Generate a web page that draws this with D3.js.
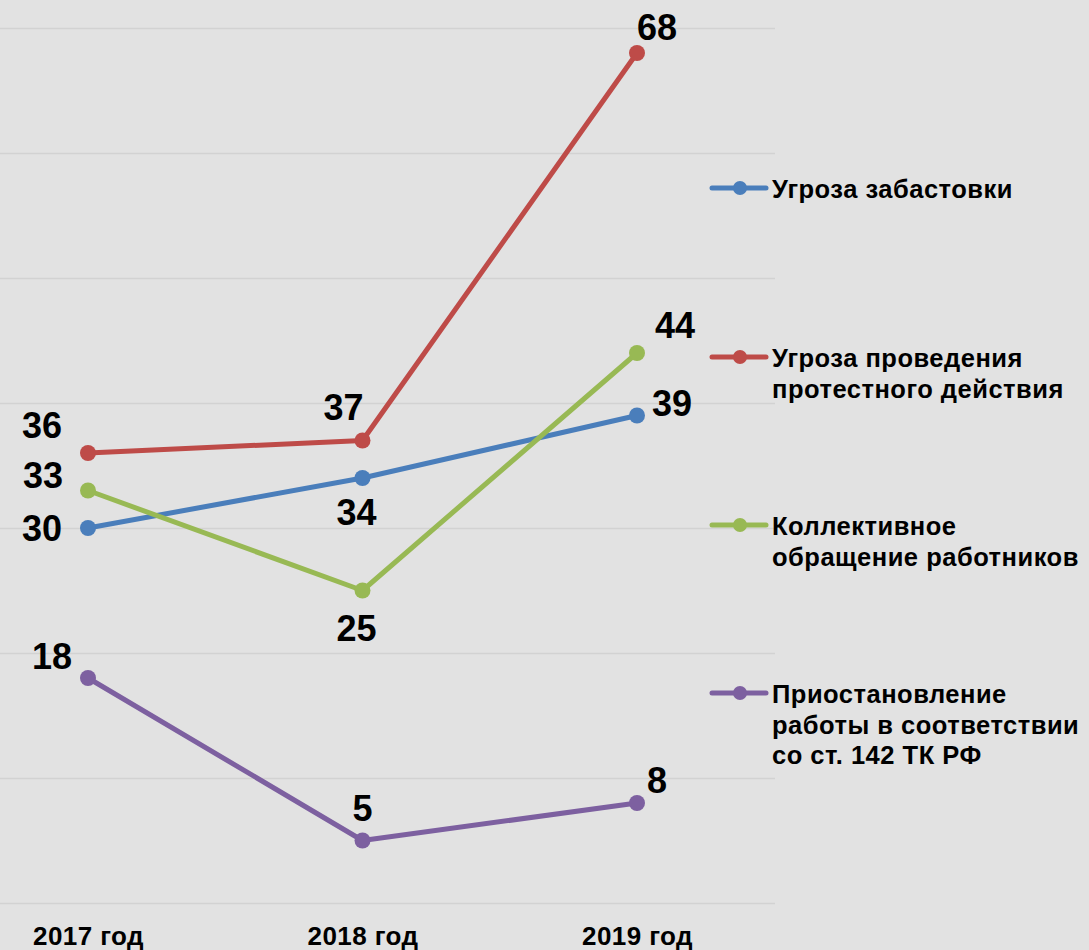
<!DOCTYPE html>
<html><head><meta charset="utf-8">
<script src="https://cdn.jsdelivr.net/npm/d3@7/dist/d3.min.js"></script>
<style>html,body{margin:0;padding:0;background:#e2e2e2;}svg{display:block;}</style>
</head><body>
<svg id="chart" width="1089" height="950"></svg>
<script>
const categories = ["2017 год", "2018 год", "2019 год"];
const seriesNames = [
  ["Угроза забастовки"],
  ["Угроза проведения", "протестного действия"],
  ["Коллективное", "обращение работников"],
  ["Приостановление", "работы в соответствии", "со ст. 142 ТК РФ"]
];
const seriesColors = ["#4a7ebb", "#be4b48", "#98b954", "#7d60a0"];
const strikeThreat = [30, 34, 39];
const protestThreat = [36, 37, 68];
const collectiveAppeal = [33, 25, 44];
const workSuspension = [18, 5, 8];
const yTicks = [0, 10, 20, 30, 40, 50, 60, 70];
// label offsets (layout only)
const labelOffsets = [
  [[-46, 0], [-6, 34], [35, -12]],
  [[-46, -28], [-19, -33], [20, -26]],
  [[-45, -15], [-6, 38], [38, -28]],
  [[-36, -22], [0, -32], [20, -23]]
];
const legendY = [188, 357, 525, 693];

const series = [strikeThreat, protestThreat, collectiveAppeal, workSuspension];
const svg = d3.select("#chart");
const font = "'Liberation Sans', Arial, sans-serif";

svg.append("rect").attr("width", 1089).attr("height", 950).attr("fill", "#e2e2e2");

const x = d3.scalePoint().domain(categories).range([88, 637]);
const y = d3.scaleLinear().domain([0, 70]).range([903, 28]);

// gridlines
svg.append("g").selectAll("line").data(yTicks).join("line")
  .attr("x1", 0).attr("x2", 775)
  .attr("y1", d => y(d) + 0.5).attr("y2", d => y(d) + 0.5)
  .attr("stroke", "#d2d2d2").attr("stroke-width", 1.5);

// category axis labels
const xAxis = d3.axisBottom(x).tickSize(0).tickPadding(0);
const gx = svg.append("g").attr("transform", "translate(0,945)").call(xAxis);
gx.select(".domain").remove();
gx.selectAll("text").attr("font-family", font).attr("font-weight", "bold")
  .attr("font-size", 26).attr("letter-spacing", "0.4px").attr("fill", "#000").attr("dy", 0);

const line = d3.line().x((d, i) => x(categories[i])).y(d => y(d));

series.forEach((vals, s) => {
  const g = svg.append("g");
  g.append("path").datum(vals).attr("d", line)
    .attr("fill", "none").attr("stroke", seriesColors[s]).attr("stroke-width", 5)
    .attr("stroke-linejoin", "round");
  g.selectAll("circle").data(vals).join("circle")
    .attr("cx", (d, i) => x(categories[i])).attr("cy", d => y(d)).attr("r", 8)
    .attr("fill", seriesColors[s]);
});

// data labels on top
series.forEach((vals, s) => {
  svg.append("g").selectAll("text").data(vals).join("text")
    .attr("x", (d, i) => x(categories[i]) + labelOffsets[s][i][0])
    .attr("y", (d, i) => y(d) + labelOffsets[s][i][1])
    .attr("dy", "0.36em")
    .attr("text-anchor", "middle")
    .attr("font-family", font).attr("font-weight", "bold").attr("font-size", 36)
    .attr("fill", "#000")
    .text(d => d);
});

// legend
seriesNames.forEach((lines, s) => {
  const g = svg.append("g").attr("transform", `translate(0,${legendY[s]})`);
  g.append("line").attr("x1", 712).attr("x2", 766).attr("y1", 0).attr("y2", 0)
    .attr("stroke", seriesColors[s]).attr("stroke-width", 5).attr("stroke-linecap", "round");
  g.append("circle").attr("cx", 740).attr("cy", 0).attr("r", 7).attr("fill", seriesColors[s]);
  const t = g.append("text").attr("font-family", font).attr("font-weight", "bold")
    .attr("font-size", 25.5).attr("letter-spacing", "0.5px").attr("fill", "#000");
  lines.forEach((ln, k) => {
    t.append("tspan").attr("x", 772).attr("y", k * 30.5 + 10).text(ln);
  });
});
</script>
</body></html>
